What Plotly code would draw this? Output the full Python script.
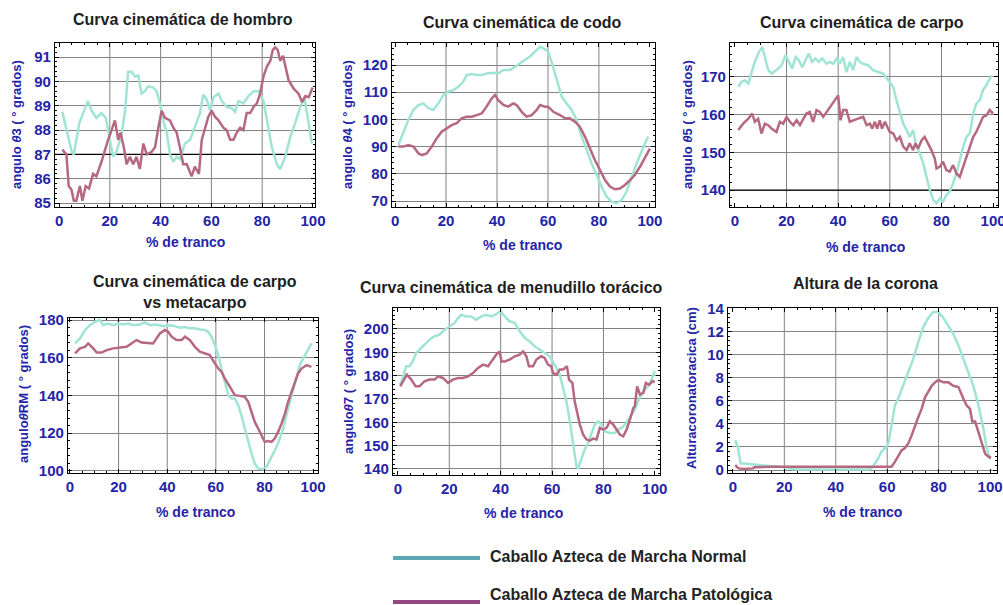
import plotly.graph_objects as go

# ---- data (x = % de tranco) ----
hombro_x_norm = [1.3, 5, 5.8, 8, 9.5, 11.4, 12.8, 14.7, 16.7, 18.4, 20, 21.3, 22.6, 24.6, 26, 27.2, 28.6, 29.9, 31.2, 32.5, 33.8, 35.1, 37.1, 38.4, 39.7, 41, 42.4, 43.7, 45, 46.3, 47.6, 49.6, 51.6, 53.5, 55.5, 56.8, 58.2, 59.5, 60.8, 62.8, 64.1, 66, 68, 69.3, 70.7, 72.6, 74.6, 76.6, 78.6, 80.5, 81.8, 83.8, 85.8, 87.1, 89.1, 91, 93, 95, 96.6, 98.3, 99.6]
hombro_y_norm = [88.75, 87.1, 87.0, 88.3, 88.7, 89.2, 88.8, 88.5, 88.7, 88.5, 87.6, 86.9, 87.1, 87.8, 88.8, 90.4, 90.4, 90.2, 90.25, 89.5, 89.6, 89.8, 89.75, 89.6, 89.1, 88.4, 87.9, 87.0, 86.7, 86.9, 86.8, 87.45, 87.6, 88.1, 88.7, 89.45, 89.25, 88.8, 89.35, 89.5, 89.2, 88.95, 88.9, 88.75, 89.2, 89.1, 89.4, 89.6, 89.6, 89.2, 88.4, 87.3, 86.6, 86.4, 86.9, 87.7, 88.3, 88.95, 89.35, 88.3, 87.45]
hombro_x_pat = [1.3, 2.9, 3.8, 4.9, 5.8, 6.8, 8.2, 9.2, 10.5, 11.8, 13.4, 14.7, 16.7, 18, 19.3, 20.7, 22, 23.3, 24.2, 25.5, 26.6, 27.9, 29.2, 30.5, 31.8, 33.2, 34.5, 36.4, 37.8, 39.1, 40.4, 41.7, 43.7, 45, 46.3, 47.6, 48.9, 50.3, 52.2, 53.5, 55.1, 56.2, 57.6, 58.8, 60.1, 61.4, 62.8, 64.7, 66, 67.4, 68.7, 70, 71.3, 72.6, 73.9, 75.3, 76.6, 77.9, 79.2, 80.5, 81.8, 83.2, 84.2, 85.1, 86.1, 87.1, 88.2, 89.1, 90.4, 92.4, 94.3, 95.7, 97, 98.3, 99.9]
hombro_y_pat = [87.2, 87.0, 85.7, 85.55, 85.1, 85.1, 85.7, 85.1, 85.7, 85.6, 86.2, 86.1, 86.7, 87.2, 87.6, 88.0, 88.4, 87.6, 87.9, 87.3, 86.6, 86.9, 86.6, 86.9, 86.4, 87.45, 87.0, 87.1, 87.3, 88.1, 88.8, 88.5, 88.4, 88.1, 87.9, 87.3, 86.6, 86.6, 86.1, 86.5, 86.2, 87.6, 88.1, 88.55, 88.8, 88.55, 88.4, 88.1, 88.0, 87.6, 87.6, 87.9, 88.1, 88.0, 88.7, 88.7, 88.95, 89.1, 89.5, 90.2, 90.6, 90.85, 91.3, 91.4, 91.3, 90.85, 91.05, 90.6, 90.05, 89.7, 89.5, 89.15, 89.4, 89.35, 89.75]

codo_x_norm = [1.3, 3.3, 5.2, 7.2, 9.2, 11.1, 13.1, 15, 17, 19, 20.9, 22.9, 24.8, 26.8, 28.1, 30, 32, 34, 35.9, 38.6, 40.5, 42.5, 45.1, 47.1, 49, 51, 52.9, 54.9, 56.9, 58.2, 60.1, 61.4, 62.7, 64.1, 65.4, 67.3, 69.3, 71.2, 73.2, 75.2, 77.1, 79.1, 81, 83, 85, 86.9, 88.9, 90.8, 92.8, 94.8, 96.7, 99.3]
codo_y_norm = [90.6, 95.5, 99.8, 103.5, 105.3, 105.9, 104.1, 103.5, 105.9, 109, 110.2, 110.8, 112, 113.9, 116.3, 116.7, 116.3, 116.3, 116.9, 117.2, 116.9, 118.2, 118.2, 119.4, 120.6, 121.8, 123.1, 124.9, 126.7, 126.1, 124.9, 121.2, 116.9, 112, 108.4, 105.9, 103.5, 99.8, 93.7, 88.8, 83.9, 79.6, 75.3, 71.6, 69.8, 69.2, 70.4, 73.4, 79, 83.9, 88.2, 93.7]
codo_x_pat = [1.3, 3.3, 5.2, 7.2, 9.2, 10.5, 12.4, 14.4, 16.3, 18.3, 20.3, 22.2, 24.2, 26.1, 28.1, 30.1, 32, 34, 35.9, 37.9, 39.2, 40.5, 42.5, 44.4, 46.4, 47.7, 49.7, 51.6, 53.6, 55.6, 56.9, 58.8, 60.1, 62.1, 64.7, 66.7, 68.6, 70.6, 72.5, 74.5, 76.5, 78.4, 80.4, 82.4, 84.3, 86.3, 88.2, 90.2, 92.2, 94.1, 96.1, 98, 100]
codo_y_pat = [90, 90, 90.6, 90, 87.5, 86.9, 87.5, 90, 93, 95.5, 96.7, 97.9, 98.6, 100.4, 101, 101, 101.6, 102.2, 104.7, 107.7, 109, 107.1, 105.3, 104.7, 105.9, 105.3, 102.8, 101, 101.6, 103.5, 105.3, 104.7, 104.7, 102.8, 101.6, 100.4, 100.4, 99.2, 97.3, 93.7, 89.3, 85.1, 81.4, 77.7, 75.3, 74.3, 74.6, 75.9, 77.7, 79.6, 82.6, 85.7, 89.3]

carpo_x_norm = [1.3, 2.6, 3.9, 5.2, 6.5, 7.7, 9.3, 10.6, 11.6, 12.9, 14.2, 16.1, 18.1, 19.6, 20.9, 22.2, 23.5, 24.8, 26.1, 27.4, 28.6, 29.9, 31.2, 32.5, 33.8, 35.5, 36.8, 38.1, 39.4, 40.6, 41.9, 43.2, 44.5, 45.8, 47.1, 48.4, 49.7, 51.6, 53.5, 55.5, 57.4, 59.4, 61.3, 62.6, 63.9, 65.2, 66.5, 67.7, 69, 70.3, 71.6, 72.9, 74.2, 75.5, 76.8, 78.1, 79.4, 80.6, 81.9, 83.2, 84.5, 85.8, 87.1, 88.4, 89.7, 91, 92.3, 93.5, 94.8, 96.1, 97, 98.1, 99.4]
carpo_y_norm = [167.4, 168.7, 169.1, 168.2, 171.3, 174, 176.6, 177.9, 175.3, 171.8, 170.9, 171.8, 173.1, 175.7, 174, 172.2, 175.3, 174.4, 172.6, 174.4, 176.2, 174, 174.9, 174, 174.9, 173.5, 174, 173.5, 174.9, 173.5, 175.3, 171.3, 174, 171.8, 175.3, 174, 173.5, 173.1, 171.8, 171.3, 170.9, 169.1, 167.4, 163.8, 160.3, 157.6, 155.9, 154.1, 155.9, 151.5, 149.7, 147.1, 143.5, 140, 137.4, 136.5, 137.8, 136.9, 138.7, 139.6, 141.8, 144.4, 147.9, 151.5, 154.1, 155, 160.3, 162.9, 163.8, 166.5, 167.4, 168.7, 170.4]
carpo_x_pat = [1.3, 3.2, 5.2, 6.7, 7.7, 9, 10.3, 11.6, 12.9, 14.2, 16.1, 17.4, 18.7, 20, 21.3, 22.6, 23.9, 25.2, 26.5, 27.7, 29, 30.3, 31.6, 32.9, 34.2, 35.5, 36.8, 38.1, 39.4, 40, 40.9, 41.9, 43.2, 44.5, 45.8, 47.7, 49.7, 51, 52.3, 53.2, 54.2, 55.1, 56.1, 57, 58.1, 59, 60, 61.3, 62.6, 63.9, 65.2, 66.5, 67.7, 69, 69.9, 71, 72.3, 73.5, 74.8, 76.1, 77.4, 78.1, 79.4, 80.6, 81.9, 83.2, 84.5, 85.8, 87.1, 88.4, 89.7, 91, 92.3, 93.5, 94.8, 96.1, 97.4, 98.7, 100]
carpo_y_pat = [155.9, 157.6, 158.9, 160.3, 158.1, 158.9, 155, 157.6, 157.2, 156.3, 155.4, 158.1, 157.6, 159.4, 158.1, 157.2, 158.5, 157.2, 158.9, 160.3, 160.7, 158.1, 161.2, 160.7, 159.4, 160.7, 162.1, 163.4, 164.7, 165.1, 158.5, 161.2, 161.2, 158.1, 158.5, 158.9, 159.4, 157.2, 157.6, 156.3, 158.1, 156.3, 158.5, 156.3, 158.1, 156.8, 155.4, 155, 153.2, 154.1, 151.5, 150.6, 152.4, 150.6, 152.4, 151, 153.2, 154.1, 152.4, 150.6, 148.4, 145.7, 146.2, 147.5, 145.3, 144.9, 146.6, 144.4, 143.5, 146.2, 148.4, 151.5, 154.1, 155.4, 157.6, 159.4, 159.8, 161.2, 160.3]

meta_x_norm = [2.1, 4.1, 6.2, 8.2, 10.3, 12.3, 13.7, 15.8, 17.8, 19.9, 21.9, 24, 26, 28.8, 30.8, 32.9, 34.9, 37, 39, 41.1, 43.2, 45.2, 47.3, 49.3, 51.4, 53.4, 55.5, 56.8, 58.2, 59.6, 61, 62.3, 63.7, 65.1, 66.4, 67.8, 69.2, 70.5, 71.9, 73.3, 74.7, 76, 77.4, 79.5, 80.8, 82.2, 83.6, 84.9, 86.3, 87.7, 89, 90.4, 91.8, 93.2, 94.5, 95.9, 97.3, 99.3]
meta_y_norm = [167.6, 170.3, 174.7, 177.3, 179.1, 180, 177.3, 178.2, 177.3, 178.2, 177.7, 178.2, 177.3, 177.7, 178.8, 177.3, 177.7, 177.3, 176.8, 177.3, 176.8, 175.9, 176.3, 175.6, 175.6, 175, 174.7, 173.8, 171.2, 166.7, 161.4, 154.3, 147.3, 140.2, 138.4, 138.4, 134.9, 129.6, 122.5, 115.4, 109.2, 103.9, 101.2, 100.9, 102.1, 105.7, 109.2, 112.7, 117.2, 122.5, 129.6, 136.6, 143.7, 149.9, 156.1, 159.6, 163.2, 167.6]
meta_x_pat = [2.1, 4.1, 6.2, 7.5, 9.6, 11, 13, 15.1, 17.8, 20.5, 23.3, 25.3, 27.4, 29.5, 32.2, 34.2, 35.6, 37, 39, 40.4, 41.8, 43.8, 45.9, 47.3, 49.3, 51.4, 53.4, 55.5, 57.5, 59.6, 61, 62.3, 63.7, 65.8, 67.8, 69.9, 71.9, 73.3, 74.7, 76, 77.4, 78.8, 80.1, 81.5, 82.9, 84.2, 85.6, 87, 88.4, 89.7, 91.1, 92.5, 93.8, 95.2, 97.3, 99.3]
meta_y_pat = [162.3, 165, 165.8, 167.6, 165, 162.8, 162.8, 164.1, 165, 165.3, 165.8, 167.6, 169.4, 168.1, 167.6, 167.6, 170.3, 172.9, 174.7, 173.8, 171.2, 169.4, 169.4, 171.2, 169.4, 165.8, 163.2, 162.3, 161.4, 157, 154.3, 152.6, 149, 144.6, 140.2, 139.8, 139.3, 136.6, 131.3, 126, 122.5, 118.9, 115.4, 115.8, 115.4, 117.2, 120.7, 125.1, 130.4, 136.6, 141.9, 147.3, 151.7, 154.3, 156.1, 155.2]

menu_x_norm = [0.9, 1.9, 3.2, 4.5, 5.8, 7.1, 8.4, 10.4, 12.3, 14.3, 16.2, 18.2, 20.1, 22.1, 23.4, 24.7, 26.6, 28.6, 30.5, 32.5, 34.4, 36.4, 38.3, 39.9, 41.6, 43.5, 45.5, 47.4, 49.4, 51.3, 53.2, 55.2, 57.1, 59.1, 61, 63, 64.3, 65.6, 66.9, 68.2, 69.5, 70.1, 71.4, 72.7, 74, 75.3, 76.6, 77.9, 79.2, 80.5, 82.5, 84.4, 85.7, 87, 88.3, 89.6, 90.9, 92.2, 93.5, 94.8, 96.1, 97.4, 98.7, 100]
menu_y_norm = [176.1, 179, 184, 184, 186.1, 189.7, 191.1, 193.3, 195.4, 196.9, 197.6, 199.7, 201.1, 202.6, 204.7, 206.1, 205.4, 205.4, 204, 205.4, 206.1, 205.4, 206.4, 207.6, 205.4, 203.3, 202.6, 199, 196.1, 194.7, 192.6, 191.1, 189.7, 188.3, 184.7, 180.4, 174.7, 169, 160.4, 150.4, 141.1, 140.1, 144.7, 148.3, 151.1, 154.7, 159, 160.4, 159, 156.1, 155.4, 155.4, 156.9, 157.6, 159, 161.1, 163.3, 165.4, 169, 171.9, 174, 175.4, 178.3, 181.9]
menu_x_pat = [0.9, 1.9, 3.5, 5.2, 6.9, 8.4, 10.4, 12.3, 14.3, 15.6, 17.5, 19.5, 21.4, 23.4, 25.3, 27.3, 29.2, 31.2, 33.1, 35.1, 37, 38.3, 39.6, 40.3, 41.6, 43.5, 45.5, 47.4, 48.7, 50, 51, 52.6, 53.9, 55.8, 57.1, 58.4, 59.7, 60.4, 61.7, 63, 64.3, 65.8, 66.6, 67.9, 68.8, 69.7, 70.8, 72.1, 73.4, 74.7, 76, 77.3, 78.6, 79.9, 81.2, 82.5, 83.8, 85.1, 86.4, 87.7, 89, 90.3, 91.6, 92.2, 93.1, 94.2, 95.5, 96.5, 97.8, 99.1, 100]
menu_y_pat = [175.4, 177.6, 180.4, 178.3, 175.4, 175.4, 177.6, 178.3, 178.3, 179.7, 179, 176.9, 178.3, 179, 179, 179.7, 181.1, 183.3, 184.7, 184, 186.9, 189, 190.4, 186.1, 186.1, 186.9, 188.3, 189, 190.4, 188.3, 184, 184, 186.9, 188.3, 187.6, 184.7, 184, 181.1, 180.4, 182.6, 182.6, 184, 178.3, 176.9, 169, 164.7, 159, 154.7, 152.6, 152.1, 153, 152.6, 157.6, 156.9, 157.6, 160.4, 159, 156.9, 154.7, 154, 156.9, 161.1, 166.1, 166.9, 175.4, 171.9, 172.6, 176.9, 176.1, 177.6, 177.3]

corona_x_norm = [0.9, 1.9, 3, 4.5, 7.1, 9.7, 12.3, 14.3, 17, 20, 23, 25, 35, 45, 53, 54.5, 56.5, 57.8, 59.7, 60.6, 61.7, 63, 64.3, 66.2, 68.2, 70.1, 72.1, 74, 76, 77.9, 79.9, 81.8, 83.8, 85.7, 87.7, 89.6, 91.6, 93.5, 95.5, 97.4, 98.7, 100]
corona_y_norm = [2.6, 2.0, 0.57, 0.57, 0.49, 0.43, 0.34, 0.34, 0.3, 0.25, 0.08, 0.05, 0.05, 0.05, 0.05, 0.3, 1.0, 1.6, 2.0, 2.45, 3.9, 5.6, 6.2, 7.3, 8.5, 9.6, 11.1, 12.4, 13.2, 13.7, 13.7, 13.2, 12.5, 11.8, 10.8, 9.6, 8.5, 7.3, 5.6, 3.6, 1.9, 0.9]
corona_x_pat = [0.9, 2.2, 4.5, 7.8, 8.4, 12.3, 14.9, 25.3, 38.3, 51.3, 61.7, 63, 64.3, 65.6, 66.9, 68.2, 69.5, 70.8, 72.1, 73.4, 74.7, 76, 77.3, 78.6, 79.9, 81.8, 83.8, 85.7, 87.7, 89.6, 90.9, 92.2, 93.1, 94.2, 95.5, 96.8, 98.1, 99.4, 100.4]
corona_y_pat = [0.43, 0.14, 0.09, 0.14, 0.23, 0.29, 0.29, 0.29, 0.29, 0.29, 0.29, 0.7, 1.15, 1.7, 1.9, 2.3, 3.0, 3.9, 4.6, 5.3, 6.3, 6.8, 7.3, 7.6, 7.8, 7.6, 7.6, 7.3, 7.2, 6.2, 5.6, 5.3, 4.2, 4.2, 3.3, 2.2, 1.4, 1.15, 1.05]

legend_labels = ["Caballo Azteca de Marcha Normal", "Caballo Azteca de Marcha Patológica"]

W, H = 1003, 605
NORMAL = "rgb(160,228,214)"
PATOL = "rgb(182,104,128)"
BLUE = "rgb(36,36,168)"
GRID = "rgb(130,130,130)"
FONT = "Liberation Sans, Arial, sans-serif"

# panel boxes in pixels: (left, top, right, bottom)
panels = [
    dict(box=(55, 43, 315, 207), xr=[-1.6, 100.8], yr=[84.84, 91.58], dy=1, title="Curva cinemática de hombro",
         t=(183, 19), xt=(185, 242), yt=(17, 125), ylab="angulo <i>θ</i>3 ( ° grados)", dark=87,
         d=(hombro_x_norm, hombro_y_norm, hombro_x_pat, hombro_y_pat)),
    dict(box=(392, 43, 655, 207), xr=[-1.2, 102], yr=[67.8, 128.1], dy=10, title="Curva cinemática de codo",
         t=(522, 22), xt=(522, 245), yt=(348, 125), ylab="angulo <i>θ</i>4 ( ° grados)", dark=None,
         d=(codo_x_norm, codo_y_norm, codo_x_pat, codo_y_pat)),
    dict(box=(730, 43, 998, 207), xr=[-1.9, 101.9], yr=[135.5, 179], dy=10, title="Curva cinemática de carpo",
         t=(862, 22), xt=(865, 247), yt=(688, 125), ylab="angulo <i>θ</i>5 ( ° grados)", dark=140,
         d=(carpo_x_norm, carpo_y_norm, carpo_x_pat, carpo_y_pat)),
    dict(box=(68, 318, 318, 473), xr=[-0.8, 102], yr=[98.9, 181.1], dy=20, title="Curva cinemática de carpo<br>vs metacarpo",
         t=(195, 292), xt=(195, 512), yt=(23, 394), ylab="angulo<i>θ</i>RM ( ° grados)", dark=None,
         d=(meta_x_norm, meta_y_norm, meta_x_pat, meta_y_pat)),
    dict(box=(393, 308, 660, 475), xr=[-1.9, 102], yr=[137.4, 209], dy=10, title="Curva cinemática de menudillo torácico",
         t=(512, 287), xt=(523, 513), yt=(348, 392), ylab="angulo<i>θ</i>7 ( ° grados)", dark=None,
         d=(menu_x_norm, menu_y_norm, menu_x_pat, menu_y_pat)),
    dict(box=(728, 308, 997, 473), xr=[-1.9, 102.7], yr=[-0.26, 14.05], dy=2, title="Altura de la corona",
         t=(865, 283), xt=(862, 512), yt=(692, 388), ylab="Alturacoronatoracica (cm)", dark=None,
         d=(corona_x_norm, corona_y_norm, corona_x_pat, corona_y_pat)),
]

fig = go.Figure()
annotations = []
shapes = []

for i, p in enumerate(panels, start=1):
    sfx = "" if i == 1 else str(i)
    xref, yref = "x" + sfx, "y" + sfx
    l, t, r, b = p["box"]
    xn, yn, xp, yp = p["d"]
    # dark reference line (above grid, below the curves)
    if p["dark"] is not None:
        fig.add_trace(go.Scatter(x=p["xr"], y=[p["dark"], p["dark"]], xaxis=xref, yaxis=yref, mode="lines",
                                 line=dict(color="black", width=1.3), showlegend=False, hoverinfo="skip"))
    fig.add_trace(go.Scatter(x=xn, y=yn, xaxis=xref, yaxis=yref, mode="lines",
                             line=dict(color=NORMAL, width=2.5), showlegend=False))
    fig.add_trace(go.Scatter(x=xp, y=yp, xaxis=xref, yaxis=yref, mode="lines",
                             line=dict(color=PATOL, width=2.5), showlegend=False))

    axis_common = dict(showline=True, linecolor="black", linewidth=1.2, mirror="allticks",
                       ticks="inside", ticklen=4, tickcolor="black", zeroline=False, automargin=False,
                       ticklabeloverflow="allow",
                       tickfont=dict(family=FONT, size=15, color=BLUE, weight="bold"))
    fig.layout["xaxis" + sfx] = dict(domain=[l / W, r / W], range=p["xr"], anchor=yref,
                                     tick0=0, dtick=20, showgrid=False,
                                     minor=dict(ticks="inside", ticklen=2, dtick=5, tickcolor="black"),
                                     **axis_common)
    fig.layout["yaxis" + sfx] = dict(domain=[1 - b / H, 1 - t / H], range=p["yr"], anchor=xref,
                                     dtick=p["dy"], showgrid=True, gridcolor=GRID, gridwidth=1,
                                     minor=dict(ticks="inside", ticklen=2, dtick=p["dy"] / 5, tickcolor="black"),
                                     **axis_common)
    for gx in [20, 40, 60, 80]:
        shapes.append(dict(type="line", xref=xref, yref=yref + " domain", x0=gx, x1=gx, y0=0, y1=1,
                           line=dict(color=GRID, width=1), layer="below"))

    annotations.append(dict(text="<b>" + p["title"] + "</b>", x=p["t"][0] / W, y=1 - p["t"][1] / H,
                            xref="paper", yref="paper", showarrow=False, xanchor="center", yanchor="middle",
                            font=dict(family=FONT, size=16, color="rgb(30,30,30)")))
    annotations.append(dict(text="<b>% de tranco</b>", x=p["xt"][0] / W, y=1 - p["xt"][1] / H,
                            xref="paper", yref="paper", showarrow=False, xanchor="center", yanchor="middle",
                            font=dict(family=FONT, size=14, color=BLUE)))
    annotations.append(dict(text="<b>" + p["ylab"] + "</b>", x=p["yt"][0] / W, y=1 - p["yt"][1] / H,
                            xref="paper", yref="paper", showarrow=False, xanchor="center", yanchor="middle",
                            textangle=-90, font=dict(family=FONT, size=13, color=BLUE)))

# legend drawn by hand (long swatches like the reference)
legend_rows = [(558, 556, "rgb(92,168,182)"), (602, 594, "rgb(150,72,130)")]
for (ly, ty, col), lab in zip(legend_rows, legend_labels):
    shapes.append(dict(type="line", xref="paper", yref="paper", x0=393 / W, x1=480 / W,
                       y0=1 - ly / H, y1=1 - ly / H, line=dict(color=col, width=4)))
    annotations.append(dict(text="<b>" + lab + "</b>", x=488 / W, y=1 - ty / H, xref="paper", yref="paper",
                            showarrow=False, xanchor="left", yanchor="middle",
                            font=dict(family=FONT, size=16, color="rgb(35,35,35)")))

fig.update_layout(width=W, height=H, margin=dict(l=0, r=0, t=0, b=0, autoexpand=False),
                  paper_bgcolor="white", plot_bgcolor="white",
                  annotations=annotations, shapes=shapes, showlegend=False)

# the page body has a default 8px margin; drop it so the figure sits at the window corner
fig.write_html("out.html", config={"displayModeBar": False},
               post_script="document.body.style.margin='0';document.body.style.overflow='hidden';")
